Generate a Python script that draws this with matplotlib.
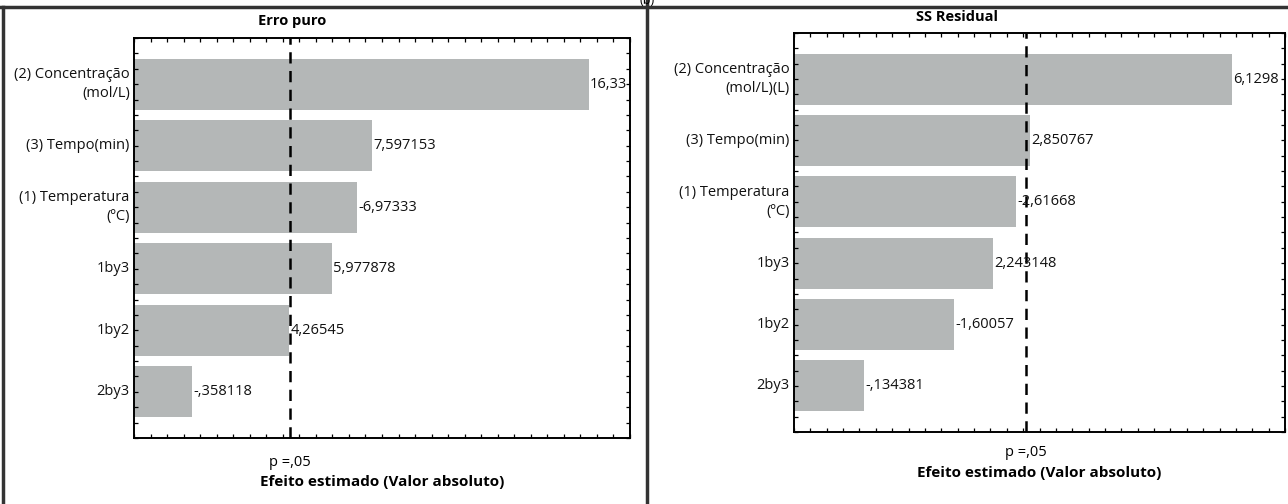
import matplotlib
matplotlib.use("Agg")
import matplotlib.pyplot as plt
import numpy as np
from matplotlib.lines import Line2D

# efeitos estimados (t) de cada fator
fatores_erro = ["(2) Concentração\n(mol/L)", "(3) Tempo(min)", "(1) Temperatura\n(ºC)",
                "1by3", "1by2", "2by3"]
efeitos_erro = [16.33, 7.597153, -6.97333, 5.977878, 4.26545, -0.358118]
t_crit_erro = 4.303  # p = 0,05 com 2 gl

fatores_res = ["(2) Concentração\n(mol/L)(L)", "(3) Tempo(min)", "(1) Temperatura\n(ºC)",
               "1by3", "1by2", "2by3"]
efeitos_res = [6.1298, 2.850767, -2.61668, 2.243148, -1.60057, -0.134381]
t_crit_res = 2.776  # p = 0,05 com 4 gl

plt.rcParams['font.family'] = ['Open Sans', 'DejaVu Sans']

W, H = 1288, 504
COR_BARRA = "#b4b7b7"


def fmt(v):
    # formato do Statistica: virgula decimal e sem zero a esquerda
    s = str(v).replace(".", ",")
    s = s.replace("-0,", "-,")
    if s.startswith("0,"):
        s = s[1:]
    return s


def eixo(px):
    x0, y0, x1, y1 = px
    return fig.add_axes([x0 / W, 1 - y1 / H, (x1 - x0) / W, (y1 - y0) / H])


def pareto(ax, fatores, efeitos, t_crit, xlim, titulo, titulo_xy, p_y, xlabel_y):
    y = np.arange(len(fatores))
    valores = np.abs(efeitos)
    xmin, xmax = xlim
    ax.barh(y, valores - xmin, left=xmin, height=0.83, color=COR_BARRA, edgecolor="none")
    for yi, v, e in zip(y, valores, efeitos):
        ax.annotate(fmt(e), (v, yi), xytext=(1, 0), textcoords="offset points",
                    ha="left", va="center", fontsize=10.5, color="#111111")
    ax.axvline(t_crit, color="black", lw=1.8, ls=(0, (4.5, 3)))
    ax.set_xlim(xmin, xmax)
    ax.set_ylim(5.75, -0.75)

    # marcas pequenas em todas as bordas
    ax.set_xticks(np.linspace(xmin, xmax, 31))
    ax.set_yticks(np.arange(-0.75, 5.76, 0.25))
    ax.tick_params(which="both", direction="in", length=3, width=0.9,
                   top=True, right=True, labelbottom=False, labelleft=False)
    for s in ax.spines.values():
        s.set_linewidth(1.4)

    # nomes dos fatores
    for yi, nome in zip(y, fatores):
        ax.annotate(nome, (xmin, yi), xytext=(-3, 0), textcoords="offset points",
                    ha="right", va="center", fontsize=10.5, linespacing=1.4,
                    color="#111111", annotation_clip=False)

    fig.text(titulo_xy[0] / W, 1 - titulo_xy[1] / H, titulo, ha="center", va="center",
             fontsize=10.5, fontweight="bold")
    xt = ax.transData.transform((t_crit, 0))[0]
    fig.text(xt / W, 1 - p_y / H, "p =,05", ha="center", va="center", fontsize=10.5)
    pos = ax.get_position()
    fig.text((pos.x0 + pos.x1) / 2, 1 - xlabel_y / H, "Efeito estimado (Valor absoluto)",
             ha="center", va="center", fontsize=11, fontweight="bold")


fig = plt.figure(figsize=(W / 100, H / 100), dpi=100)

ax1 = eixo((134, 38, 630, 438))
pareto(ax1, fatores_erro, efeitos_erro, t_crit_erro, (-2, 18),
       "Erro puro", (292, 21), 463, 482)

ax2 = eixo((794, 33, 1285, 432))
pareto(ax2, fatores_res, efeitos_res, t_crit_res, (-1, 7),
       "SS Residual", (957, 17), 452, 473)

# molduras dos paineis
cor_moldura = "#333333"
for xs, ys in [((0, W), (6.5, 6.5)), ((3, 3), (6.5, H)), ((647, 647), (0, H))]:
    fig.add_artist(Line2D([x / W for x in xs], [1 - v / H for v in ys],
                          color=cor_moldura, lw=2.5))
fig.text(647 / W, 1.0, "(b)", ha="center", va="center", fontsize=9)

fig.savefig("out.png", dpi=100)
